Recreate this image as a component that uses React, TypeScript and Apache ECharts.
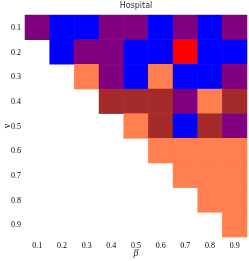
import React, { useEffect, useRef } from "react";
import * as echarts from "echarts";

const betaLabels = ["0.1", "0.2", "0.3", "0.4", "0.5", "0.6", "0.7", "0.8", "0.9"];
const nuLabels = ["0.1", "0.2", "0.3", "0.4", "0.5", "0.6", "0.7", "0.8", "0.9"];

// class codes: P purple, B blue, R red, C coral, K brown, "" empty
const row01 = ["P", "B", "B", "P", "P", "B", "P", "B", "P"];
const row02 = ["", "B", "P", "P", "B", "B", "R", "B", "B"];
const row03 = ["", "", "C", "P", "B", "C", "B", "B", "P"];
const row04 = ["", "", "", "K", "K", "K", "P", "C", "K"];
const row05 = ["", "", "", "", "C", "K", "B", "K", "P"];
const row06 = ["", "", "", "", "", "C", "C", "C", "C"];
const row07 = ["", "", "", "", "", "", "C", "C", "C"];
const row08 = ["", "", "", "", "", "", "", "C", "C"];
const row09 = ["", "", "", "", "", "", "", "", "C"];
const rows = [row01, row02, row03, row04, row05, row06, row07, row08, row09];

const classCodes = ["P", "B", "R", "C", "K"];
const classColors = ["#800080", "#0000ff", "#ff0000", "#ff7f50", "#a52a2a"];

export default function App() {
  const ref = useRef<HTMLDivElement>(null);
  useEffect(() => {
    if (!ref.current) return;
    const chart = echarts.init(ref.current, null, { renderer: "svg" });
    const data: any[] = [];
    rows.forEach((row, yi) => {
      row.forEach((code, xi) => {
        const ci = classCodes.indexOf(code);
        if (ci >= 0) data.push([xi, yi, ci]);
      });
    });
    const serif = "Liberation Serif";
    chart.setOption({
      animation: false,
      title: {
        text: "Hospital",
        left: 136,
        top: 1,
        padding: 0,
        textAlign: "center",
        textStyle: { fontSize: 8, fontWeight: "normal", color: "#333", fontFamily: "DejaVu Sans" },
      },
      grid: { left: 25, right: 2, top: 15, bottom: 24, outerBoundsMode: "none", containLabel: false },
      visualMap: {
        type: "piecewise",
        show: false,
        dimension: 2,
        seriesIndex: 0,
        pieces: classColors.map((c, i) => ({ value: i, color: c })),
      },
      graphic: [
        {
          type: "text",
          x: 136,
          y: 252,
          style: {
            text: "β",
            fontSize: 10,
            fontStyle: "italic",
            fontFamily: serif,
            fill: "#222",
            textAlign: "center",
            textVerticalAlign: "middle",
          },
        },
        {
          type: "text",
          x: 6,
          y: 126,
          rotation: Math.PI / 2,
          style: {
            text: "ν",
            fontSize: 10,
            fontFamily: serif,
            fill: "#222",
            textAlign: "center",
            textVerticalAlign: "middle",
          },
        },
      ],
      xAxis: {
        type: "category",
        data: betaLabels,
        axisLine: { show: false },
        axisTick: { show: false },
        splitLine: { show: false },
        axisLabel: { fontSize: 8, color: "#000", fontFamily: serif, margin: 4 },
      },
      yAxis: {
        type: "category",
        data: nuLabels,
        inverse: true,
        axisLine: { show: false },
        axisTick: { show: false },
        splitLine: { show: false },
        axisLabel: { fontSize: 8, color: "#000", fontFamily: serif, margin: 4 },
      },
      series: [
        {
          type: "heatmap",
          data,
          itemStyle: { borderWidth: 0 },
          emphasis: { disabled: true },
        },
      ],
    });
    return () => chart.dispose();
  }, []);
  return (
    <div
      ref={ref}
      style={{ position: "fixed", left: 0, top: 0, width: 249, height: 261, willChange: "transform" }}
    />
  );
}
